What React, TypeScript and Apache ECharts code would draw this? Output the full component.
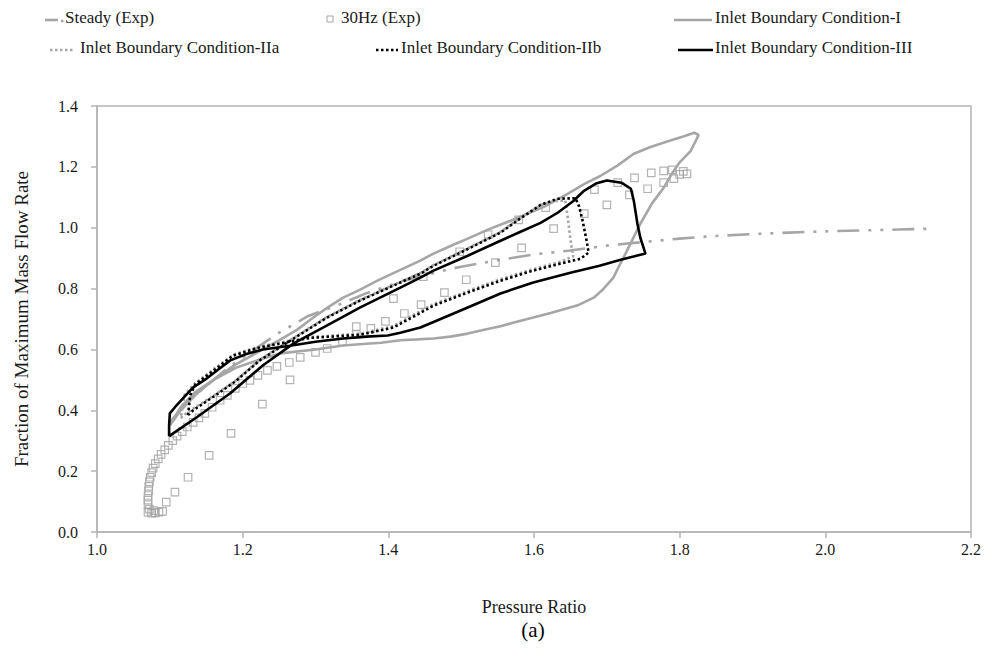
import React, { useEffect, useRef } from "react";
import * as echarts from "echarts";

const seriesNames = [
  "Steady (Exp)",
  "30Hz (Exp)",
  "Inlet Boundary Condition-I",
  "Inlet Boundary Condition-IIa",
  "Inlet Boundary Condition-IIb",
  "Inlet Boundary Condition-III",
];

const steadyExp: number[][] = [
  [1.10, 0.36], [1.12, 0.42], [1.15, 0.48], [1.18, 0.54], [1.21, 0.59], [1.25, 0.655],
  [1.29, 0.71], [1.33, 0.745], [1.37, 0.785], [1.42, 0.825], [1.47, 0.856], [1.50, 0.872],
  [1.55, 0.893], [1.60, 0.912], [1.65, 0.925], [1.70, 0.941], [1.75, 0.953], [1.80, 0.964],
  [1.85, 0.973], [1.90, 0.979], [1.95, 0.984], [2.00, 0.988], [2.05, 0.991], [2.10, 0.994],
  [2.15, 0.997],
];

const exp30Hz: number[][] = [
  [1.07, 0.065], [1.075, 0.062], [1.08, 0.063], [1.085, 0.065], [1.09, 0.068], [1.078, 0.07], [1.072, 0.075],
  [1.07, 0.09], [1.07, 0.105], [1.07, 0.12], [1.071, 0.135], [1.071, 0.15], [1.072, 0.165], [1.073, 0.18],
  [1.075, 0.195], [1.077, 0.21], [1.08, 0.225], [1.084, 0.24], [1.088, 0.255], [1.093, 0.27], [1.098, 0.285],
  [1.104, 0.30], [1.11, 0.315], [1.117, 0.33], [1.124, 0.345], [1.132, 0.36], [1.14, 0.375], [1.148, 0.39],
  [1.158, 0.41], [1.169, 0.433], [1.179, 0.449], [1.19, 0.472], [1.20, 0.488], [1.21, 0.498], [1.221, 0.515],
  [1.234, 0.531], [1.247, 0.544], [1.264, 0.557], [1.279, 0.574], [1.30, 0.59], [1.316, 0.603], [1.337, 0.626],
  [1.356, 0.649], [1.356, 0.675], [1.376, 0.669], [1.396, 0.692], [1.422, 0.718], [1.445, 0.747], [1.477, 0.787],
  [1.507, 0.829], [1.547, 0.885], [1.583, 0.934], [1.627, 0.997], [1.669, 1.046], [1.70, 1.075], [1.731, 1.108],
  [1.756, 1.128], [1.778, 1.148], [1.792, 1.161], [1.80, 1.175], [1.81, 1.177], [1.805, 1.185], [1.79, 1.19],
  [1.778, 1.187], [1.761, 1.18], [1.738, 1.164], [1.715, 1.148], [1.683, 1.125], [1.616, 1.066], [1.579, 1.026],
  [1.537, 0.977], [1.498, 0.921], [1.448, 0.839], [1.407, 0.767],
  [1.095, 0.098], [1.107, 0.131], [1.125, 0.18], [1.154, 0.252], [1.184, 0.324], [1.227, 0.42], [1.265, 0.50],
];

const conditionI: number[][] = [
  [1.10, 0.35], [1.115, 0.40], [1.135, 0.45], [1.16, 0.50], [1.19, 0.55], [1.22, 0.59], [1.25, 0.63],
  [1.275, 0.665], [1.297, 0.705], [1.318, 0.74], [1.338, 0.77], [1.36, 0.795], [1.385, 0.826], [1.415, 0.86],
  [1.444, 0.892], [1.462, 0.915], [1.49, 0.945], [1.509, 0.964], [1.54, 0.997], [1.568, 1.023], [1.59, 1.045],
  [1.615, 1.07], [1.646, 1.111], [1.67, 1.145], [1.691, 1.17], [1.715, 1.205], [1.737, 1.243], [1.76, 1.265],
  [1.785, 1.285], [1.805, 1.30], [1.82, 1.312], [1.826, 1.305], [1.822, 1.285], [1.815, 1.252], [1.80, 1.215],
  [1.79, 1.18], [1.778, 1.131], [1.762, 1.08], [1.746, 1.013], [1.735, 0.96], [1.723, 0.902], [1.716, 0.87],
  [1.709, 0.836], [1.695, 0.798], [1.682, 0.77], [1.66, 0.745], [1.623, 0.72], [1.599, 0.705], [1.575, 0.69],
  [1.554, 0.676], [1.53, 0.664], [1.509, 0.652], [1.485, 0.642], [1.462, 0.636], [1.44, 0.633], [1.4165, 0.630],
  [1.39, 0.622], [1.36, 0.617], [1.338, 0.613], [1.30, 0.60], [1.2515, 0.587], [1.228, 0.57], [1.192, 0.541],
  [1.16, 0.50], [1.135, 0.46], [1.115, 0.41], [1.10, 0.35],
];

const conditionIIa: number[][] = [
  [1.115, 0.375], [1.125, 0.395], [1.155, 0.44], [1.19, 0.497], [1.224, 0.567], [1.27, 0.638], [1.316, 0.707],
  [1.3615, 0.763], [1.4165, 0.822], [1.444, 0.851], [1.462, 0.877], [1.509, 0.932], [1.554, 0.986], [1.581, 1.032],
  [1.609, 1.074], [1.628, 1.088], [1.643, 1.089], [1.646, 1.04], [1.649, 0.98], [1.652, 0.93], [1.654, 0.906],
  [1.636, 0.888], [1.599, 0.864], [1.554, 0.831], [1.509, 0.792], [1.462, 0.749], [1.444, 0.726], [1.407, 0.677],
  [1.3615, 0.652], [1.293, 0.641], [1.224, 0.61], [1.187, 0.583], [1.16, 0.535], [1.135, 0.49], [1.12, 0.45],
  [1.115, 0.375],
];

const conditionIIb: number[][] = [
  [1.125, 0.384], [1.132, 0.40], [1.16, 0.445], [1.19, 0.495], [1.224, 0.565], [1.27, 0.636], [1.316, 0.705],
  [1.3615, 0.761], [1.4165, 0.820], [1.444, 0.849], [1.462, 0.875], [1.509, 0.930], [1.554, 0.984], [1.581, 1.03],
  [1.609, 1.075], [1.632, 1.095], [1.657, 1.097], [1.662, 1.07], [1.667, 1.02], [1.672, 0.96], [1.675, 0.918],
  [1.664, 0.898], [1.636, 0.882], [1.599, 0.859], [1.554, 0.826], [1.509, 0.787], [1.462, 0.744], [1.444, 0.72],
  [1.407, 0.672], [1.3615, 0.648], [1.293, 0.638], [1.224, 0.607], [1.187, 0.58], [1.16, 0.53], [1.135, 0.485],
  [1.128, 0.45], [1.125, 0.384],
];

const conditionIII: number[][] = [
  [1.099, 0.315], [1.099, 0.35], [1.100, 0.39], [1.107, 0.41], [1.118, 0.439], [1.132, 0.475], [1.151, 0.505],
  [1.167, 0.535], [1.183, 0.564], [1.205, 0.585], [1.228, 0.60], [1.265, 0.612], [1.30, 0.625], [1.338, 0.636],
  [1.37, 0.642], [1.399, 0.646], [1.4165, 0.655], [1.444, 0.672], [1.462, 0.69], [1.509, 0.738], [1.554, 0.784],
  [1.599, 0.820], [1.65, 0.852], [1.69, 0.875], [1.719, 0.895], [1.753, 0.915], [1.746, 0.967], [1.742, 1.013],
  [1.737, 1.089], [1.733, 1.128], [1.72, 1.148], [1.70, 1.155], [1.685, 1.145], [1.668, 1.12], [1.654, 1.088],
  [1.633, 1.05], [1.609, 1.016], [1.58, 0.985], [1.554, 0.957], [1.509, 0.908], [1.462, 0.859], [1.444, 0.836],
  [1.4165, 0.803], [1.3615, 0.738], [1.316, 0.679], [1.27, 0.62], [1.228, 0.548], [1.183, 0.456], [1.137, 0.377],
  [1.099, 0.315],
];

const xMin = 1.0, xMax = 2.2, xStep = 0.2;
const yMin = 0.0, yMax = 1.4, yStep = 0.2;

const GRAY = "#a6a6a6";
const AXIS = "#b4b4b4";
const FONT = "Liberation Serif";
const TEXT = "#1a1a1a";

function legendGraphics(): any[] {
  const txt = (s: string, x: number, y: number) => ({
    type: "text",
    x,
    y,
    style: { text: s, fontFamily: FONT, fontSize: 17, fill: TEXT, verticalAlign: "middle", align: "left" },
  });
  const ln = (x1: number, x2: number, y: number, stroke: string, dash?: number[]) => ({
    type: "line",
    shape: { x1, y1: y, x2, y2: y },
    style: { stroke, lineWidth: 2.6, lineDash: dash || null },
  });
  return [
    ln(45, 58, 20, GRAY),
    ln(61, 63.5, 21, GRAY),
    txt(seriesNames[0], 65, 17),
    { type: "rect", shape: { x: 327, y: 16, width: 6, height: 6 }, style: { fill: "none", stroke: GRAY, lineWidth: 1 } },
    txt(seriesNames[1], 341, 17),
    ln(674, 712, 20, GRAY),
    txt(seriesNames[2], 715, 17),
    ln(50, 73, 50, GRAY, [2.5, 2.5]),
    txt(seriesNames[3], 80, 47),
    ln(376, 398, 50, "#000", [2.5, 2.5]),
    txt(seriesNames[4], 401, 47),
    ln(678, 713, 50, "#000"),
    txt(seriesNames[5], 715, 47),
  ];
}

export default function App() {
  const ref = useRef<HTMLDivElement>(null);
  useEffect(() => {
    if (!ref.current) return;
    const chart = echarts.init(ref.current, undefined, { renderer: "svg" });
    chart.setOption({
      animation: false,
      backgroundColor: "#fff",
      textStyle: { fontFamily: FONT },
      grid: {
        left: 97,
        right: 21,
        top: 106,
        bottom: 125,
        show: true,
        borderColor: AXIS,
        borderWidth: 1.5,
        containLabel: false,
      },
      xAxis: {
        type: "value",
        min: xMin,
        max: xMax,
        interval: xStep,
        name: "Pressure Ratio",
        nameLocation: "middle",
        nameGap: 66,
        nameTextStyle: { fontFamily: FONT, fontSize: 18, color: TEXT },
        axisLine: { show: true, lineStyle: { color: AXIS, width: 1.5 } },
        axisTick: { show: true, length: 6, lineStyle: { color: AXIS, width: 1.5 } },
        axisLabel: { margin: 9, fontFamily: FONT, fontSize: 16, color: TEXT, formatter: (v: number) => v.toFixed(1) },
        splitLine: { show: false },
      },
      yAxis: {
        type: "value",
        min: yMin,
        max: yMax,
        interval: yStep,
        name: "Fraction of Maximum Mass Flow Rate",
        nameLocation: "middle",
        nameGap: 66,
        nameTextStyle: { fontFamily: FONT, fontSize: 19, color: TEXT },
        axisLine: { show: true, lineStyle: { color: AXIS, width: 1.5 } },
        axisTick: { show: true, length: 6, lineStyle: { color: AXIS, width: 1.5 } },
        axisLabel: { margin: 19, fontFamily: FONT, fontSize: 16, color: TEXT, formatter: (v: number) => v.toFixed(1) },
        splitLine: { show: false },
      },
      graphic: [
        ...legendGraphics(),
        {
          type: "text",
          x: 533,
          y: 630,
          style: { text: "(a)", fontFamily: FONT, fontSize: 21, fill: "#000", align: "center", verticalAlign: "middle" },
        },
      ],
      series: [
        {
          name: seriesNames[0],
          type: "line",
          data: steadyExp,
          symbol: "none",
          lineStyle: { color: GRAY, width: 2.6, type: [22, 9, 3, 9, 3, 9] },
          itemStyle: { color: GRAY },
          z: 2,
        },
        {
          name: seriesNames[1],
          type: "scatter",
          data: exp30Hz,
          symbol: "rect",
          symbolSize: 7.5,
          itemStyle: { color: "rgba(255,255,255,0)", borderColor: "#a0a0a0", borderWidth: 1.2 },
          z: 3,
        },
        {
          name: seriesNames[2],
          type: "line",
          data: conditionI,
          symbol: "none",
          lineStyle: { color: GRAY, width: 2.6 },
          itemStyle: { color: GRAY },
          z: 4,
        },
        {
          name: seriesNames[3],
          type: "line",
          data: conditionIIa,
          symbol: "none",
          lineStyle: { color: GRAY, width: 2.6, type: [2.5, 2.5] },
          itemStyle: { color: GRAY },
          z: 5,
        },
        {
          name: seriesNames[4],
          type: "line",
          data: conditionIIb,
          symbol: "none",
          lineStyle: { color: "#000", width: 2.6, type: [2.5, 2.5] },
          itemStyle: { color: "#000" },
          z: 6,
        },
        {
          name: seriesNames[5],
          type: "line",
          data: conditionIII,
          symbol: "none",
          lineStyle: { color: "#000", width: 2.6 },
          itemStyle: { color: "#000" },
          z: 7,
        },
      ],
    });
    return () => chart.dispose();
  }, []);
  return <div ref={ref} style={{ position: "absolute", left: 0, top: 0, width: 992, height: 657 }} />;
}
